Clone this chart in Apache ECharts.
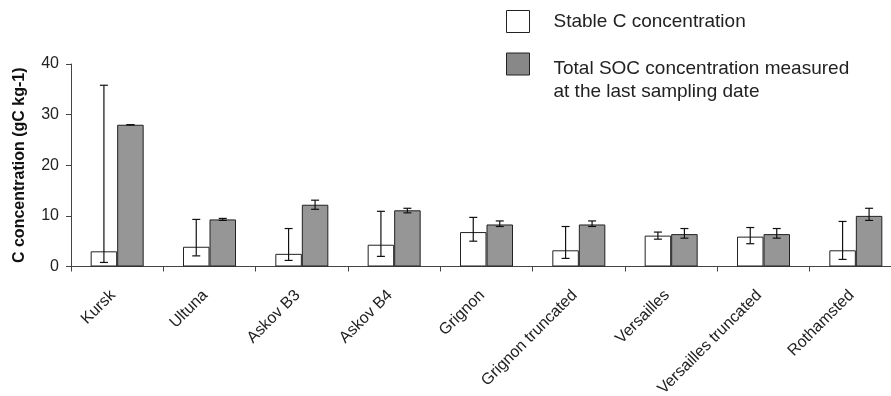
<!DOCTYPE html>
<html>
<head>
<meta charset="utf-8">
<script src="https://cdn.jsdelivr.net/npm/echarts@6/dist/echarts.min.js"></script>
<style>
  html, body { margin: 0; padding: 0; background: #fff; }
  #chart { width: 891px; height: 396px; }
</style>
</head>
<body>
<div id="chart"></div>
<script>
// data
const categories = ['Kursk', 'Ultuna', 'Askov B3', 'Askov B4', 'Grignon', 'Grignon truncated', 'Versailles', 'Versailles truncated', 'Rothamsted'];
const stableC = [3.0, 3.9, 2.5, 4.3, 6.8, 3.2, 6.1, 5.9, 3.2];
const stableLow = [0.8, 2.1, 1.2, 2.0, 5.0, 1.6, 5.4, 4.5, 1.4];
const stableHigh = [35.8, 9.3, 7.5, 10.9, 9.7, 7.9, 6.8, 7.7, 8.9];
const totalSOC = [28.0, 9.3, 12.2, 11.1, 8.3, 8.3, 6.4, 6.4, 10.0];
const totalLow = [28.0, 9.1, 11.3, 10.6, 7.9, 7.9, 5.6, 5.6, 9.1];
const totalHigh = [28.0, 9.5, 13.1, 11.5, 9.0, 9.0, 7.5, 7.5, 11.5];
const yTicks = [0, 10, 20, 30, 40];

const STABLE_NAME = 'Stable C concentration';
const TOTAL_NAME = 'Total SOC concentration measured at the last sampling date';
const FONT = 'Liberation Sans, Arial, sans-serif';
const BAR_W = 26.5;

const chart = echarts.init(document.getElementById('chart'));

// error bars drawn next to each bar centre
function errorBars(offset) {
  return function (params, api) {
    const idx = api.value(0);
    const lo = api.coord([idx, api.value(1)]);
    const hi = api.coord([idx, api.value(2)]);
    const x = lo[0] + offset;
    const cap = 4;
    const style = { stroke: '#111', lineWidth: 1.2 };
    return {
      type: 'group',
      children: [
        { type: 'line', shape: { x1: x, y1: lo[1], x2: x, y2: hi[1] }, style },
        { type: 'line', shape: { x1: x - cap, y1: hi[1], x2: x + cap, y2: hi[1] }, style },
        { type: 'line', shape: { x1: x - cap, y1: lo[1], x2: x + cap, y2: lo[1] }, style },
      ],
    };
  };
}

const legendBase = {
  left: 506,
  padding: 0,
  orient: 'vertical',
  selectedMode: false,
  icon: 'rect',
  itemWidth: 23,
  itemHeight: 22,
};

const option = {
  animation: false,
  textStyle: { fontFamily: FONT },
  legend: [
    Object.assign({}, legendBase, {
      top: 10,
      data: [{ name: STABLE_NAME, itemStyle: { color: '#fff', borderColor: '#222', borderWidth: 1 } }],
      textStyle: { fontFamily: FONT, fontSize: 19, color: '#222', padding: [0, 0, 0, 19] },
    }),
    Object.assign({}, legendBase, {
      top: 39,
      data: [{ name: TOTAL_NAME, itemStyle: { color: '#888', borderColor: '#222', borderWidth: 1 } }],
      // empty first line pushes the two text lines below the icon centre, as in the reference
      formatter: (name) => '{s| }\n{a|' + name.replace(' at the', '}\n{a|at the') + '}',
      textStyle: {
        fontFamily: FONT, fontSize: 19, color: '#222', padding: [0, 0, 0, 19],
        rich: {
          s: { fontSize: 4, lineHeight: 32 },
          a: { fontFamily: FONT, fontSize: 19, color: '#222', lineHeight: 23 },
        },
      },
    }),
  ],
  grid: { left: 71, top: 64, width: 831, height: 202.5, outerBoundsMode: 'none' },
  xAxis: {
    type: 'category',
    data: categories,
    axisLine: { lineStyle: { color: '#444', width: 1 } },
    axisTick: { show: true, length: 5, lineStyle: { color: '#444' } },
    axisLabel: { interval: 0, rotate: 45, fontSize: 16, color: '#222', margin: 22, padding: [0, 6, 0, 0], fontFamily: FONT },
  },
  yAxis: {
    type: 'value',
    min: yTicks[0],
    max: yTicks[yTicks.length - 1],
    interval: 10,
    name: 'C concentration (gC kg-1)',
    nameLocation: 'middle',
    nameGap: 43,
    nameTextStyle: { fontSize: 16, fontWeight: 'bold', color: '#111', fontFamily: FONT },
    axisLine: { show: true, lineStyle: { color: '#444', width: 1 } },
    axisTick: { show: true, length: 5, lineStyle: { color: '#444' } },
    axisLabel: { fontSize: 16, color: '#222', margin: 12, fontFamily: FONT },
    splitLine: { show: false },
  },
  series: [
    {
      name: STABLE_NAME,
      type: 'bar',
      data: stableC,
      barWidth: BAR_W,
      barGap: '0%',
      itemStyle: { color: '#fff', borderColor: '#222', borderWidth: 1 },
    },
    {
      name: TOTAL_NAME,
      type: 'bar',
      data: totalSOC,
      barWidth: BAR_W,
      barGap: '0%',
      itemStyle: { color: '#969696', borderColor: '#222', borderWidth: 1 },
    },
    {
      type: 'custom',
      z: 5,
      renderItem: errorBars(-BAR_W / 2),
      encode: { x: 0, y: [1, 2] },
      data: stableLow.map((v, i) => [i, v, stableHigh[i]]),
    },
    {
      type: 'custom',
      z: 5,
      renderItem: errorBars(BAR_W / 2),
      encode: { x: 0, y: [1, 2] },
      data: totalLow.map((v, i) => [i, v, totalHigh[i]]),
    },
  ],
};

chart.setOption(option);
</script>
</body>
</html>
